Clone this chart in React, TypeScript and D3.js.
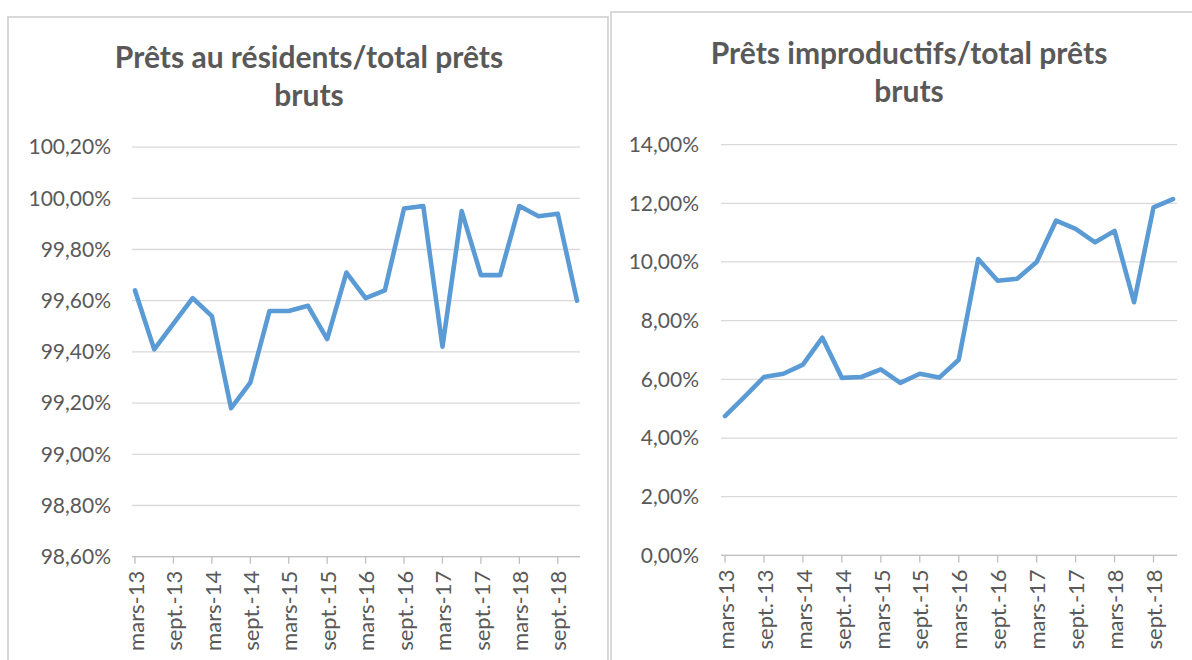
import React from "react";
import * as d3 from "d3";

const categories = [
  "mars-13", "juin-13", "sept.-13", "déc.-13",
  "mars-14", "juin-14", "sept.-14", "déc.-14",
  "mars-15", "juin-15", "sept.-15", "déc.-15",
  "mars-16", "juin-16", "sept.-16", "déc.-16",
  "mars-17", "juin-17", "sept.-17", "déc.-17",
  "mars-18", "juin-18", "sept.-18", "déc.-18",
];

const residentsValues = [
  99.64, 99.41, 99.51, 99.61, 99.54, 99.18, 99.28, 99.56,
  99.56, 99.58, 99.45, 99.71, 99.61, 99.64, 99.96, 99.97,
  99.42, 99.95, 99.70, 99.70, 99.97, 99.93, 99.94, 99.60,
];

const improductifsValues = [
  4.75, 5.40, 6.08, 6.19, 6.50, 7.42, 6.05, 6.08,
  6.34, 5.88, 6.19, 6.06, 6.67, 10.10, 9.36, 9.43,
  10.0, 11.41, 11.13, 10.67, 11.06, 8.63, 11.86, 12.14,
];

const residentsTicks = [98.6, 98.8, 99.0, 99.2, 99.4, 99.6, 99.8, 100.0, 100.2];
const improductifsTicks = [0, 2, 4, 6, 8, 10, 12, 14];

const titles = {
  left: ["Prêts au résidents/total prêts", "bruts"],
  right: ["Prêts improductifs/total prêts", "bruts"],
};

const fr = d3.formatLocale({ decimal: ",", thousands: " ", grouping: [3], currency: ["", "€"] });
const fmt = (v: number) => fr.format(".2f")(v) + "%";

const FONT = "Lato, 'Open Sans', sans-serif";
const TEXT = "#595959";
const GRID = "#d9d9d9";
const LINE = "#5B9BD5";

type PanelProps = {
  values: number[];
  ticks: number[];
  title: string[];
  px0: number; px1: number;
  gx0: number; gx1: number;
  yTop: number; yBot: number;
  labelX: number;
  titleX: number; titleY: number;
};

function Panel(p: PanelProps) {
  const x = d3.scalePoint<string>().domain(categories).range([p.px0, p.px1]);
  const y = d3.scaleLinear()
    .domain([p.ticks[0], p.ticks[p.ticks.length - 1]])
    .range([p.yBot, p.yTop]);
  const line = d3.line<number>()
    .x((_, i) => x(categories[i]) as number)
    .y((d) => y(d))
    .curve(d3.curveLinear);
  const shown = categories.filter((_, i) => i % 2 === 0);
  return (
    <g>
      {p.title.map((t, i) => (
        <text key={t} x={p.titleX} y={p.titleY + i * 38} textAnchor="middle"
          fontFamily={FONT} fontWeight={700} fontSize={30} fill={TEXT}>{t}</text>
      ))}
      {p.ticks.map((t) => (
        <g key={t}>
          <line x1={p.gx0} x2={p.gx1} y1={y(t)} y2={y(t)} stroke={GRID} strokeWidth={1.3} />
          <text x={p.labelX} y={y(t)} dy="0.35em" textAnchor="end"
            fontFamily={FONT} fontSize={21} fill={TEXT}>{fmt(t)}</text>
        </g>
      ))}
      <line x1={p.gx0} x2={p.gx1} y1={p.yBot} y2={p.yBot} stroke="#bfbfbf" strokeWidth={1.3} />
      {shown.map((c) => (
        <g key={c}>
          <line x1={x(c)} x2={x(c)} y1={p.yBot} y2={p.yBot + 7} stroke="#bfbfbf" strokeWidth={1.3} />
          <text transform={`translate(${(x(c) as number) + 1},${p.yBot + 14}) rotate(-90)`}
            dy="0.35em" textAnchor="end" fontFamily={FONT} fontSize={22} fill={TEXT}>{c}</text>
        </g>
      ))}
      <path d={line(p.values) || ""} fill="none" stroke={LINE} strokeWidth={4.6}
        strokeLinejoin="round" strokeLinecap="round" />
    </g>
  );
}

export default function App() {
  return (
    <svg width={1192} height={660} style={{ position: "absolute", left: 0, top: 0, background: "#fff" }}>
      <rect x={0} y={0} width={1192} height={660} fill="#fff" />
      <rect x={8} y={17} width={600} height={660} fill="#fff" stroke={GRID} strokeWidth={2} />
      <rect x={611} y={12} width={600} height={660} fill="#fff" stroke={GRID} strokeWidth={2} />
      <Panel values={residentsValues} ticks={residentsTicks} title={titles.left}
        px0={135} px1={577} gx0={132} gx1={580} yTop={147.1} yBot={556.7}
        labelX={111} titleX={309} titleY={68} />
      <Panel values={improductifsValues} ticks={improductifsTicks} title={titles.right}
        px0={725} px1={1173} gx0={721} gx1={1177} yTop={144.6} yBot={555.4}
        labelX={699} titleX={909} titleY={64} />
    </svg>
  );
}
